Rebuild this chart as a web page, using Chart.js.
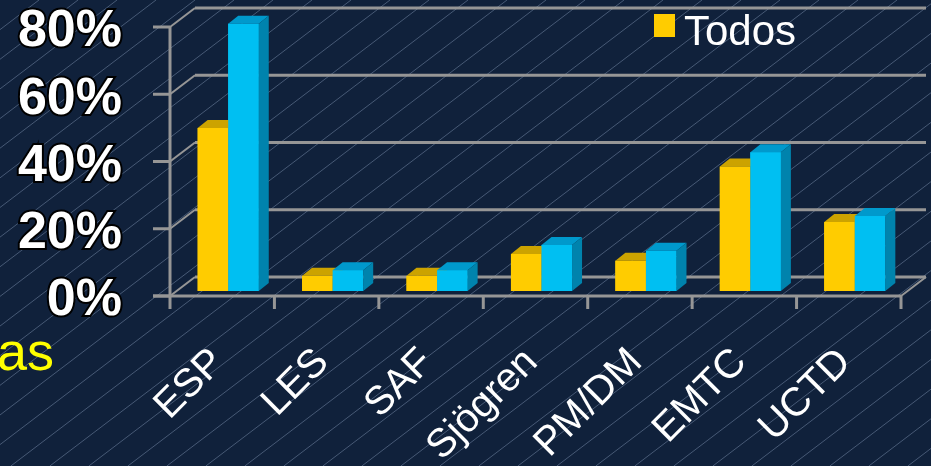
<!DOCTYPE html>
<html>
<head>
<meta charset="utf-8">
<script src="https://cdn.jsdelivr.net/npm/chart.js@4.4.0/dist/chart.umd.min.js"></script>
<style>
  html, body { margin: 0; padding: 0; background: #10213b; }
  #wrap { width: 931px; height: 466px; position: relative; }
</style>
</head>
<body>
<div id="wrap"><canvas id="chart" width="931" height="466"></canvas></div>
<script>
const categories = ['ESP', 'LES', 'SAF', 'Sjögren', 'PM/DM', 'EMTC', 'UCTD'];
const todosValues = [48.5, 4.5, 4.5, 11, 9, 37, 20.5];
const serie2Values = [79.5, 6.2, 6.2, 13.7, 12, 41.3, 22.3];
const yTicks = [0, 20, 40, 60, 80];

const FONT = "'Liberation Sans', Arial, sans-serif";

// 3D look: offsets of the back wall and the front axis relative to the bar plane
const BACK = { dx: 19, dy: -14 };
const FRONT = { dx: -6, dy: 5 };
const DEPTH = { dx: 10, dy: -8 };
const faceColors = [
  { top: '#cca300', side: '#b38f00' },
  { top: '#0099cc', side: '#0083ad' }
];

const backgroundPlugin = {
  id: 'slideBackground',
  beforeDraw(chart) {
    const { ctx, width, height } = chart;
    ctx.save();
    ctx.fillStyle = '#10213b';
    ctx.fillRect(0, 0, width, height);
    // thin diagonal hatch
    ctx.strokeStyle = 'rgba(125,145,175,0.5)';
    ctx.lineWidth = 1;
    const run = height / 0.76;
    for (let x0 = -run; x0 < width + 40; x0 += 39) {
      ctx.beginPath();
      ctx.moveTo(x0, height);
      ctx.lineTo(x0 + run, 0);
      ctx.stroke();
    }
    ctx.restore();
  }
};

const framePlugin = {
  id: 'frame3d',
  beforeDatasetsDraw(chart) {
    const { ctx, chartArea } = chart;
    const y = chart.scales.y;
    const { left, right, bottom } = chartArea;
    ctx.save();
    ctx.strokeStyle = '#969696';
    ctx.lineCap = 'butt';

    yTicks.forEach(v => {
      const py = y.getPixelForValue(v);
      // back wall gridline
      ctx.lineWidth = 3;
      ctx.beginPath();
      ctx.moveTo(left + BACK.dx, py + BACK.dy);
      ctx.lineTo(right + BACK.dx, py + BACK.dy);
      ctx.stroke();
      // front tick
      ctx.beginPath();
      ctx.moveTo(left + FRONT.dx - 17, py + FRONT.dy);
      ctx.lineTo(left + FRONT.dx, py + FRONT.dy);
      ctx.stroke();
      // side wall connector
      ctx.lineWidth = 2;
      ctx.beginPath();
      ctx.moveTo(left + FRONT.dx, py + FRONT.dy);
      ctx.lineTo(left + BACK.dx, py + BACK.dy);
      ctx.stroke();
    });

    ctx.lineWidth = 3;
    // front vertical axis
    ctx.beginPath();
    ctx.moveTo(left + FRONT.dx, y.getPixelForValue(80) + FRONT.dy);
    ctx.lineTo(left + FRONT.dx, bottom + FRONT.dy + 13);
    ctx.stroke();
    // front floor edge
    ctx.beginPath();
    ctx.moveTo(left + FRONT.dx - 17, bottom + FRONT.dy);
    ctx.lineTo(right + FRONT.dx, bottom + FRONT.dy);
    ctx.stroke();
    // category ticks
    const step = (right - left) / categories.length;
    for (let i = 1; i <= categories.length; i++) {
      const px = left + i * step + FRONT.dx;
      ctx.beginPath();
      ctx.moveTo(px, bottom + FRONT.dy);
      ctx.lineTo(px, bottom + FRONT.dy + 13);
      ctx.stroke();
    }
    // right floor corner
    ctx.lineWidth = 2;
    ctx.beginPath();
    ctx.moveTo(right + FRONT.dx, bottom + FRONT.dy);
    ctx.lineTo(right + BACK.dx, bottom + BACK.dy);
    ctx.stroke();
    ctx.restore();
  },
  // Chart.js paints the last dataset first, so the boxes are repainted
  // here left to right to get the overlaps right.
  afterDatasetsDraw(chart) {
    const { ctx } = chart;
    ctx.save();
    chart.data.datasets.forEach((ds, di) => {
      const faces = faceColors[di];
      chart.getDatasetMeta(di).data.forEach(bar => {
        const l = bar.x - bar.width / 2;
        const r = bar.x + bar.width / 2;
        // front face
        ctx.fillStyle = ds.backgroundColor;
        ctx.fillRect(l, bar.y, r - l, bar.base - bar.y);
        // top face
        ctx.fillStyle = faces.top;
        ctx.beginPath();
        ctx.moveTo(l, bar.y);
        ctx.lineTo(r, bar.y);
        ctx.lineTo(r + DEPTH.dx, bar.y + DEPTH.dy);
        ctx.lineTo(l + DEPTH.dx, bar.y + DEPTH.dy);
        ctx.closePath();
        ctx.fill();
        // side face
        ctx.fillStyle = faces.side;
        ctx.beginPath();
        ctx.moveTo(r, bar.y);
        ctx.lineTo(r + DEPTH.dx, bar.y + DEPTH.dy);
        ctx.lineTo(r + DEPTH.dx, bar.base + DEPTH.dy);
        ctx.lineTo(r, bar.base);
        ctx.closePath();
        ctx.fill();
      });
    });
    ctx.restore();
  },
  afterDraw(chart) {
    const { ctx } = chart;
    const ds = chart.data.datasets[0];
    ctx.save();
    // legend entry
    ctx.fillStyle = ds.backgroundColor;
    ctx.fillRect(654, 14, 21, 23);
    ctx.fillStyle = '#ffffff';
    ctx.font = '42px ' + FONT;
    ctx.textBaseline = 'alphabetic';
    ctx.fillText(ds.label, 684, 45);
    // slide text peeking in at the left
    ctx.fillStyle = '#ffff00';
    ctx.font = '54px ' + FONT;
    ctx.textAlign = 'right';
    ctx.fillText('as', 54, 370);
    ctx.restore();
  }
};

new Chart(document.getElementById('chart'), {
  type: 'bar',
  data: {
    labels: categories,
    datasets: [
      { label: 'Todos', data: todosValues, backgroundColor: '#ffcc00', borderWidth: 0 },
      { label: 'Serie 2', data: serie2Values, backgroundColor: '#00bff2', borderWidth: 0 }
    ]
  },
  options: {
    responsive: false,
    animation: false,
    devicePixelRatio: 1,
    layout: { padding: { top: 22, right: 24, left: 0, bottom: 0 } },
    datasets: {
      bar: { categoryPercentage: 0.585, barPercentage: 1.0 }
    },
    plugins: {
      legend: { display: false },
      tooltip: { enabled: false }
    },
    scales: {
      x: {
        grid: { display: false },
        border: { display: false },
        ticks: {
          color: '#ffffff',
          font: { family: FONT, size: 40 },
          minRotation: 45,
          maxRotation: 45,
          autoSkip: false,
          padding: 40,
          labelOffset: -10
        },
        afterFit(scale) {
          scale.height = 175;
          scale.paddingLeft = 0;
          scale.paddingRight = 0;
        }
      },
      y: {
        min: 0,
        max: 80,
        afterBuildTicks(scale) {
          scale.ticks = yTicks.map(v => ({ value: v }));
        },
        grid: { display: false },
        border: { display: false },
        ticks: {
          color: '#ffffff',
          font: { family: FONT, size: 52, weight: 'bold' },
          textStrokeColor: '#000000',
          textStrokeWidth: 4,
          padding: 46,
          labelOffset: 10,
          callback: v => v + '%'
        },
        afterFit(scale) {
          scale.width = 176;
          scale.paddingTop = 0;
          scale.paddingBottom = 0;
        }
      }
    }
  },
  plugins: [backgroundPlugin, framePlugin]
});
</script>
</body>
</html>
